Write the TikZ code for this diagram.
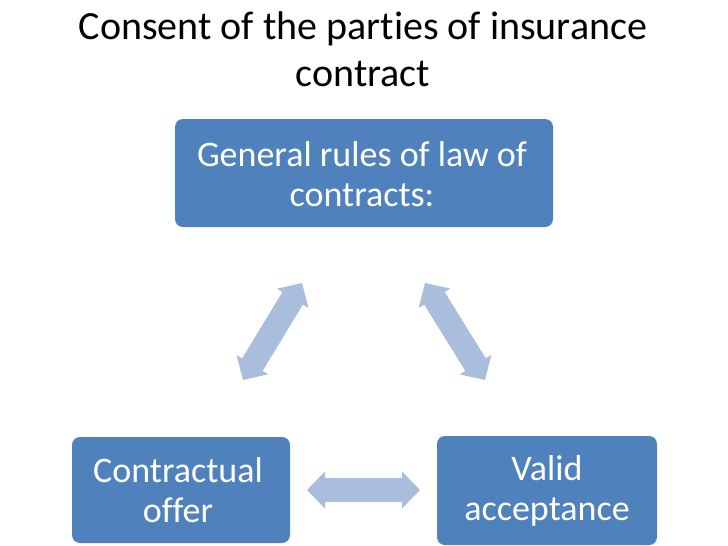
\documentclass[tikz,border=0pt]{standalone}
\usepackage{fontspec}
\setmainfont{Carlito}[Ligatures=NoCommon]
\usetikzlibrary{arrows.meta}
\definecolor{boxblue}{HTML}{4F81BD}
\definecolor{arrowblue}{HTML}{A9BEDC}
\begin{document}
\begin{tikzpicture}[x=1pt,y=-1pt,
  box/.style={fill=boxblue, rounded corners=8pt, inner sep=0pt},
  boxtext/.style={text=white, font=\fontsize{36}{40}\selectfont, align=center, inner sep=0pt},
  dblarrow/.style={draw=arrowblue, line width=24pt, {Triangle[width=36pt,length=18pt]}-{Triangle[width=36pt,length=18pt]}}]
\useasboundingbox[fill=white] (0,0) rectangle (728,546);
\node[font=\fontsize{40}{47}\selectfont, align=center, inner sep=0pt] (title) at (363,49) {Consent of the parties of insurance\\contract};
\node[box, minimum width=378pt, minimum height=108pt] (top) at (364,173) {};
\node[box, minimum width=218pt, minimum height=106pt] (left) at (181,490) {};
\node[box, minimum width=220pt, minimum height=109pt] (right) at (547,490.5) {};
\node[boxtext] (toptext) at (362,174) {General rules of law of\\contracts:};
\node[boxtext] (lefttext) at (178,490) {Contractual\\offer};
\node[boxtext] (righttext) at (547,491) {Valid\\acceptance};
\coordinate (l1) at (243,380);
\coordinate (l2) at (302,283);
\coordinate (r1) at (425,283);
\coordinate (r2) at (485,380);
\coordinate (h1) at (307,490);
\coordinate (h2) at (420,490);
\draw[dblarrow] (l1) -- (l2);
\draw[dblarrow] (r1) -- (r2);
\draw[dblarrow] (h1) -- (h2);
\end{tikzpicture}
\end{document}
